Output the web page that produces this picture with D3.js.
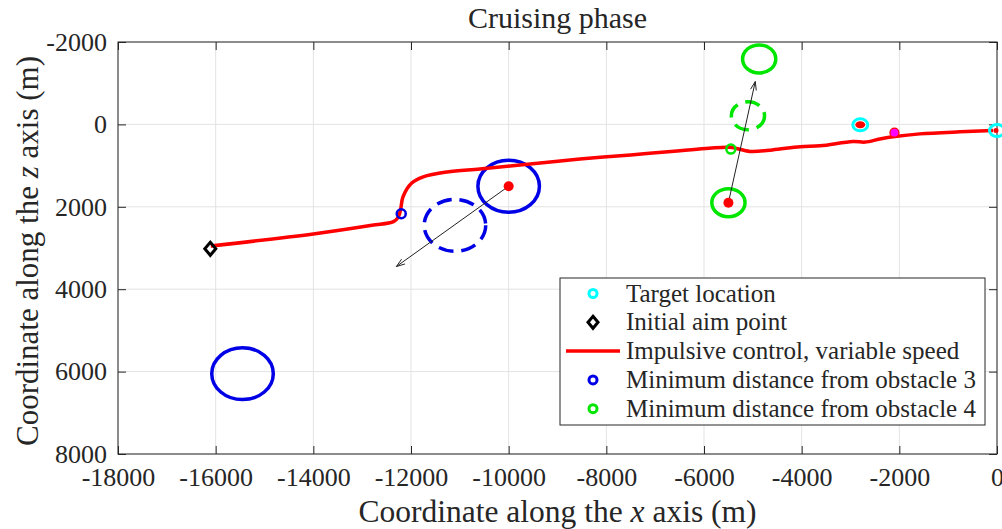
<!DOCTYPE html>
<html>
<head>
<meta charset="utf-8">
<script src="https://cdn.jsdelivr.net/npm/d3@7"></script>
<style>
  body { margin: 0; background: #fff; }
  text { font-family: "Liberation Serif", "Times New Roman", serif; fill: #262626; }
</style>
</head>
<body>
<svg id="chart" width="1002" height="529"></svg>
<script>
var X_TICKS = [-18000, -16000, -14000, -12000, -10000, -8000, -6000, -4000, -2000, 0]
  , Z_TICKS = [-2000, 0, 2000, 4000, 6000, 8000]

// trajectory, impulsive control with variable speed (x, z)
var pathX = [-16100, -14000, -12800, -12360, -12260, -12211, -12164, -11990, -11750, -11260,
             -10590, -9560, -8540, -7500, -6490, -5900, -5470, -5060, -4600, -4030,
             -3620, -2950, -2700, -2400, -2090, -1580, -760, -80]
  , pathZ = [2950, 2660, 2450, 2360, 2250, 2050, 1760, 1430, 1275, 1155,
             1080, 960, 840, 740, 640, 580, 555, 655, 620, 540,
             520, 415, 430, 355, 295, 230, 180, 150]

var targetX = [0, -2800]
  , targetZ = [150, 10]
  , aimX = [-16110]
  , aimZ = [3020]

// obstacles: solid = at closest approach, dashed = shifted along velocity
var obs3X = [-10000, -15450]
  , obs3Z = [1500, 6050]
  , obs3DashX = [-11100]
  , obs3DashZ = [2450]
  , obs3R = 630
  , obs4X = [-5500, -4870]
  , obs4Z = [1900, -1590]
  , obs4DashX = [-5100]
  , obs4DashZ = [-210]
  , obs4R = 340

var minDist3 = [-12200, 2170]
  , minDist4 = [-5450, 600]
  , centreDots = [[-10000, 1500], [-5500, 1900], [-2800, 10]]
  , extraDot = [-2100, 200]

var arrows = [
    [[-10000, 1500], [-12300, 3450]]
  , [[-5500, 1900], [-4950, -1040]]
]

var legendLabels = [
    'Target location'
  , 'Initial aim point'
  , 'Impulsive control, variable speed'
  , 'Minimum distance from obstacle 3'
  , 'Minimum distance from obstacle 4'
]

var RED = '#ff0000'
  , BLUE = '#0000e6'
  , GREEN = '#00e600'
  , CYAN = '#00ffff'
  , AXIS = '#262626'
  , GRID = '#e3e3e3'

var svg = d3.select('#chart')
  , pLeft = 118
  , pRight = 997
  , pTop = 42
  , pBottom = 454

var x = d3.scaleLinear().domain([-18000, 0]).range([pLeft, pRight])
  , y = d3.scaleLinear().domain([-2000, 8000]).range([pTop, pBottom])

// matlab style labels, plain hyphen
function fmt(d) {
  return String(d)
}

// grid
var grid = svg.append('g')
grid.selectAll('.gx')
  .data(X_TICKS)
  .enter()
    .append('line')
    .attr('x1', x).attr('x2', x)
    .attr('y1', pTop).attr('y2', pBottom)
    .attr('stroke', GRID).attr('stroke-width', 1)
grid.selectAll('.gz')
  .data(Z_TICKS)
  .enter()
    .append('line')
    .attr('y1', y).attr('y2', y)
    .attr('x1', pLeft).attr('x2', pRight)
    .attr('stroke', GRID).attr('stroke-width', 1)

// axes
function styleAxis(g) {
  g.select('.domain').remove()
  g.selectAll('.tick line').attr('stroke', AXIS)
  g.selectAll('.tick text')
    .attr('fill', AXIS)
    .style('font-family', '"Liberation Serif", serif')
    .style('font-size', '26px')
}

svg.append('g')
  .attr('transform', 'translate(0,' + pBottom + ')')
  .call(d3.axisBottom(x).tickValues(X_TICKS).tickSize(-8).tickPadding(14).tickFormat(fmt))
  .call(styleAxis)

svg.append('g')
  .attr('transform', 'translate(0,' + pTop + ')')
  .call(d3.axisTop(x).tickValues(X_TICKS).tickSize(-8).tickFormat(''))
  .call(styleAxis)

svg.append('g')
  .attr('transform', 'translate(' + pLeft + ',0)')
  .call(d3.axisLeft(y).tickValues(Z_TICKS).tickSize(-8).tickPadding(11).tickFormat(fmt))
  .call(styleAxis)

svg.append('g')
  .attr('transform', 'translate(' + pRight + ',0)')
  .call(d3.axisRight(y).tickValues(Z_TICKS).tickSize(-8).tickFormat(''))
  .call(styleAxis)

svg.append('rect')
  .attr('x', pLeft).attr('y', pTop)
  .attr('width', pRight - pLeft).attr('height', pBottom - pTop)
  .attr('fill', 'none').attr('stroke', AXIS).attr('stroke-width', 1)

// obstacles drawn as circles in data space
var plot = svg.append('g')

function obstacles(xs, zs, r, colour, dashed) {
  plot.selectAll(null)
    .data(d3.zip(xs, zs))
    .enter()
      .append('ellipse')
      .attr('cx', function(d) { return x(d[0]) })
      .attr('cy', function(d) { return y(d[1]) })
      .attr('rx', x(r) - x(0))
      .attr('ry', y(r) - y(0))
      .attr('fill', 'none')
      .attr('stroke', colour)
      .attr('stroke-width', 3.5)
      .attr('stroke-dasharray', dashed ? '15,8' : null)
}

obstacles(obs3X, obs3Z, obs3R, BLUE, false)
obstacles(obs3DashX, obs3DashZ, obs3R, BLUE, true)
obstacles(obs4X, obs4Z, obs4R, GREEN, false)
obstacles(obs4DashX, obs4DashZ, obs4R, GREEN, true)

// trajectory
var line = d3.line()
  .x(function(d) { return x(d[0]) })
  .y(function(d) { return y(d[1]) })
  .curve(d3.curveCatmullRom.alpha(0.5))

plot.append('path')
  .attr('d', line(d3.zip(pathX, pathZ)))
  .attr('fill', 'none')
  .attr('stroke', RED)
  .attr('stroke-width', 3.5)
  .attr('stroke-linejoin', 'round')

// velocity arrows
arrows.forEach(function(a) {
  var x0 = x(a[0][0]), y0 = y(a[0][1])
    , x1 = x(a[1][0]), y1 = y(a[1][1])
    , ang = Math.atan2(y1 - y0, x1 - x0)
    , head = 9
    , spread = 0.33

  plot.append('line')
    .attr('x1', x0).attr('y1', y0)
    .attr('x2', x1).attr('y2', y1)
    .attr('stroke', '#222').attr('stroke-width', 1)

  plot.append('path')
    .attr('d', 'M' + (x1 - head * Math.cos(ang - spread)) + ',' + (y1 - head * Math.sin(ang - spread)) +
      'L' + x1 + ',' + y1 +
      'L' + (x1 - head * Math.cos(ang + spread)) + ',' + (y1 - head * Math.sin(ang + spread)))
    .attr('fill', 'none').attr('stroke', '#222').attr('stroke-width', 1)
})

// markers
plot.selectAll(null)
  .data([minDist3])
  .enter()
    .append('circle')
    .attr('cx', function(d) { return x(d[0]) })
    .attr('cy', function(d) { return y(d[1]) })
    .attr('r', 4.5)
    .attr('fill', 'none').attr('stroke', BLUE).attr('stroke-width', 2.5)

plot.selectAll(null)
  .data([minDist4])
  .enter()
    .append('circle')
    .attr('cx', function(d) { return x(d[0]) })
    .attr('cy', function(d) { return y(d[1]) })
    .attr('r', 4.5)
    .attr('fill', 'none').attr('stroke', GREEN).attr('stroke-width', 2.5)

plot.selectAll(null)
  .data(d3.zip(targetX, targetZ))
  .enter()
    .append('ellipse')
    .attr('cx', function(d) { return x(d[0]) })
    .attr('cy', function(d) { return y(d[1]) })
    .attr('rx', 7.5).attr('ry', 6)
    .attr('fill', 'none').attr('stroke', CYAN).attr('stroke-width', 3)

plot.selectAll(null)
  .data(centreDots)
  .enter()
    .append('ellipse')
    .attr('cx', function(d) { return x(d[0]) })
    .attr('cy', function(d) { return y(d[1]) })
    .attr('rx', 5)
    .attr('ry', function(d, i) { return i === 2 ? 3.5 : 5 })
    .attr('fill', RED)

plot.append('circle')
  .attr('cx', x(targetX[0]) - 1).attr('cy', y(targetZ[0]))
  .attr('r', 2.5).attr('fill', RED)

plot.append('circle')
  .attr('cx', x(extraDot[0])).attr('cy', y(extraDot[1]))
  .attr('r', 4.5)
  .attr('fill', '#ff00ff').attr('stroke', RED).attr('stroke-width', 1.2)

function diamond(cx, cy, w, h) {
  return 'M' + cx + ',' + (cy - h) + 'L' + (cx + w) + ',' + cy +
    'L' + cx + ',' + (cy + h) + 'L' + (cx - w) + ',' + cy + 'Z'
}

plot.selectAll(null)
  .data(d3.zip(aimX, aimZ))
  .enter()
    .append('path')
    .attr('d', function(d) { return diamond(x(d[0]), y(d[1]), 5.5, 6.5) })
    .attr('fill', 'none').attr('stroke', '#000').attr('stroke-width', 3)
    .attr('stroke-linejoin', 'miter')

// legend
var lg = svg.append('g')
  , lgLeft = 560
  , lgTop = 278
  , rowH = 28.8
  , firstRow = 293.5

lg.append('rect')
  .attr('x', lgLeft).attr('y', lgTop)
  .attr('width', 425).attr('height', 147)
  .attr('fill', '#fff').attr('stroke', AXIS).attr('stroke-width', 1)

legendLabels.forEach(function(label, i) {
  var cy = firstRow + i * rowH
    , mx = 593

  if(i === 0 || i === 3 || i === 4) {
    lg.append('circle')
      .attr('cx', mx).attr('cy', cy).attr('r', 4)
      .attr('fill', 'none')
      .attr('stroke', i === 0 ? CYAN : i === 3 ? BLUE : GREEN)
      .attr('stroke-width', 3)
  } else if(i === 1) {
    lg.append('path')
      .attr('d', diamond(mx, cy, 5, 6))
      .attr('fill', 'none').attr('stroke', '#000').attr('stroke-width', 3)
  } else {
    lg.append('line')
      .attr('x1', 566).attr('x2', 620)
      .attr('y1', cy).attr('y2', cy)
      .attr('stroke', RED).attr('stroke-width', 3.5)
  }

  lg.append('text')
    .attr('x', 626).attr('y', cy + 8)
    .style('font-size', '25px')
    .attr('fill', '#000')
    .text(label)
})

// title and labels
svg.append('text')
  .attr('x', (pLeft + pRight) / 2).attr('y', 28)
  .attr('text-anchor', 'middle')
  .style('font-size', '30px')
  .attr('fill', '#000')
  .text('Cruising phase')

var xl = svg.append('text')
  .attr('x', (pLeft + pRight) / 2).attr('y', 522)
  .attr('text-anchor', 'middle')
  .style('font-size', '31.5px')
  .attr('fill', AXIS)
xl.append('tspan').text('Coordinate along the ')
xl.append('tspan').style('font-style', 'italic').text('x')
xl.append('tspan').text(' axis (m)')

var yl = svg.append('text')
  .attr('transform', 'translate(38,' + ((pTop + pBottom) / 2 + 3) + ') rotate(-90)')
  .attr('text-anchor', 'middle')
  .style('font-size', '31px')
  .attr('fill', AXIS)
yl.append('tspan').text('Coordinate along the ')
yl.append('tspan').style('font-style', 'italic').text('z')
yl.append('tspan').text(' axis (m)')
</script>
</body>
</html>
